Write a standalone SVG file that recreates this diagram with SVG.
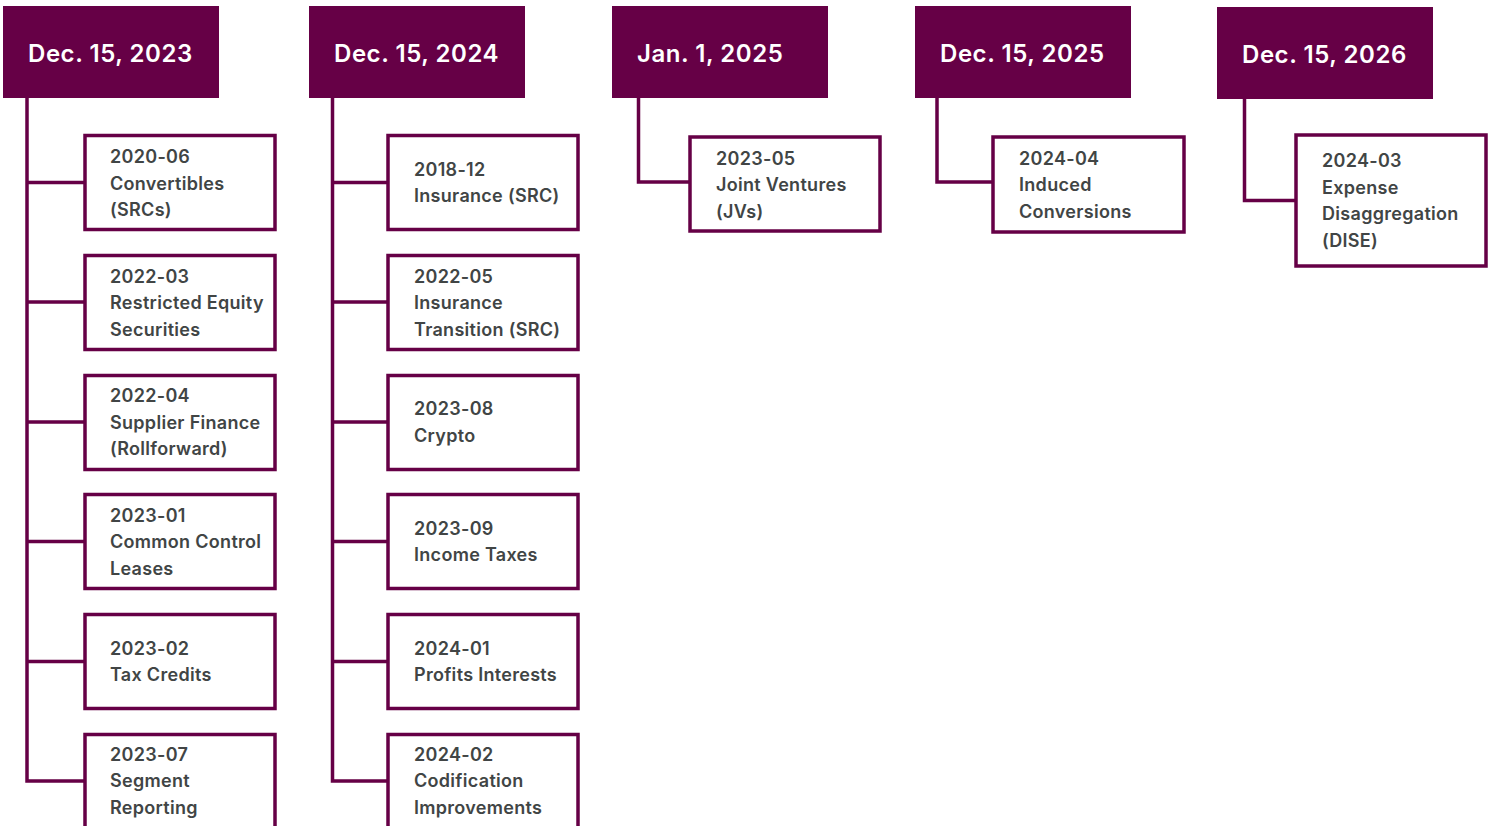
<svg xmlns="http://www.w3.org/2000/svg" width="1493" height="826" viewBox="0 0 1493 826">
<style>
.hdr{fill:#660046}
.htx{fill:#ffffff;font-family:Inter,"Liberation Sans",sans-serif;font-weight:600;font-size:24px;letter-spacing:0.55px}
.box{fill:#ffffff;stroke:#660046;stroke-width:3.5}
.tx{fill:#414545;font-family:Inter,"Liberation Sans",sans-serif;font-weight:600;font-size:18px;letter-spacing:0.3px}
.cn{fill:none;stroke:#660046;stroke-width:3.5;stroke-linejoin:miter}
</style>
<rect width="1493" height="826" fill="#ffffff"/>
<g id="connectors">
<path class="cn" d="M27,98 V782 M27,182.5 H85 M27,302 H85 M27,422 H85 M27,541.5 H85 M27,661.5 H85 M25.25,781 H85"/>
<path class="cn" d="M332.5,98 V782 M332.5,182.5 H388 M332.5,302 H388 M332.5,422 H388 M332.5,541.5 H388 M332.5,661.5 H388 M330.75,781 H388"/>
<path class="cn" d="M638.5,98 V182 H690"/>
<path class="cn" d="M937,98 V182 H993"/>
<path class="cn" d="M1244.5,99 V200.5 H1296"/>
</g>
<g id="h1"><rect class="hdr" x="3" y="6" width="216" height="92"/><text class="htx" x="28" y="62">Dec. 15, 2023</text></g>
<g id="h2"><rect class="hdr" x="309" y="6" width="216" height="92"/><text class="htx" x="334" y="62">Dec. 15, 2024</text></g>
<g id="h3"><rect class="hdr" x="612" y="6" width="216" height="92"/><text class="htx" x="637" y="62">Jan. 1, 2025</text></g>
<g id="h4"><rect class="hdr" x="915" y="6" width="216" height="92"/><text class="htx" x="940" y="62">Dec. 15, 2025</text></g>
<g id="h5"><rect class="hdr" x="1217" y="7" width="216" height="92"/><text class="htx" x="1242" y="63">Dec. 15, 2026</text></g>

<g id="b1"><rect class="box" x="85" y="135.5" width="190" height="94"/><text class="tx"><tspan x="110" y="163">2020-06</tspan><tspan x="110" y="189.5">Convertibles</tspan><tspan x="110" y="216">(SRCs)</tspan></text></g>
<g id="b2"><rect class="box" x="85" y="255.5" width="190" height="94"/><text class="tx"><tspan x="110" y="282.5">2022-03</tspan><tspan x="110" y="309">Restricted Equity</tspan><tspan x="110" y="335.5">Securities</tspan></text></g>
<g id="b3"><rect class="box" x="85" y="375.5" width="190" height="94"/><text class="tx"><tspan x="110" y="402">2022-04</tspan><tspan x="110" y="428.5">Supplier Finance</tspan><tspan x="110" y="455">(Rollforward)</tspan></text></g>
<g id="b4"><rect class="box" x="85" y="494.5" width="190" height="94"/><text class="tx"><tspan x="110" y="521.5">2023-01</tspan><tspan x="110" y="548">Common Control</tspan><tspan x="110" y="574.5">Leases</tspan></text></g>
<g id="b5"><rect class="box" x="85" y="614.5" width="190" height="94"/><text class="tx"><tspan x="110" y="654.5">2023-02</tspan><tspan x="110" y="681">Tax Credits</tspan></text></g>
<g id="b6"><rect class="box" x="85" y="734.5" width="190" height="94"/><text class="tx"><tspan x="110" y="760.5">2023-07</tspan><tspan x="110" y="787">Segment</tspan><tspan x="110" y="813.5">Reporting</tspan></text></g>

<g id="c1"><rect class="box" x="388" y="135.5" width="190" height="94"/><text class="tx"><tspan x="414" y="175.5">2018-12</tspan><tspan x="414" y="202">Insurance (SRC)</tspan></text></g>
<g id="c2"><rect class="box" x="388" y="255.5" width="190" height="94"/><text class="tx"><tspan x="414" y="282.5">2022-05</tspan><tspan x="414" y="309">Insurance</tspan><tspan x="414" y="335.5">Transition (SRC)</tspan></text></g>
<g id="c3"><rect class="box" x="388" y="375.5" width="190" height="94"/><text class="tx"><tspan x="414" y="415">2023-08</tspan><tspan x="414" y="441.5">Crypto</tspan></text></g>
<g id="c4"><rect class="box" x="388" y="494.5" width="190" height="94"/><text class="tx"><tspan x="414" y="534.5">2023-09</tspan><tspan x="414" y="561">Income Taxes</tspan></text></g>
<g id="c5"><rect class="box" x="388" y="614.5" width="190" height="94"/><text class="tx"><tspan x="414" y="654.5">2024-01</tspan><tspan x="414" y="681">Profits Interests</tspan></text></g>
<g id="c6"><rect class="box" x="388" y="734.5" width="190" height="94"/><text class="tx"><tspan x="414" y="760.5">2024-02</tspan><tspan x="414" y="787">Codification</tspan><tspan x="414" y="813.5">Improvements</tspan></text></g>

<g id="d1"><rect class="box" x="690" y="137" width="190" height="94"/><text class="tx"><tspan x="716" y="164.5">2023-05</tspan><tspan x="716" y="191">Joint Ventures</tspan><tspan x="716" y="217.5">(JVs)</tspan></text></g>
<g id="e1"><rect class="box" x="993" y="137" width="191" height="95"/><text class="tx"><tspan x="1019" y="164.5">2024-04</tspan><tspan x="1019" y="191">Induced</tspan><tspan x="1019" y="217.5">Conversions</tspan></text></g>
<g id="f1"><rect class="box" x="1296" y="135" width="190" height="131"/><text class="tx"><tspan x="1322" y="167">2024-03</tspan><tspan x="1322" y="193.5">Expense</tspan><tspan x="1322" y="220">Disaggregation</tspan><tspan x="1322" y="246.5">(DISE)</tspan></text></g>
</svg>
